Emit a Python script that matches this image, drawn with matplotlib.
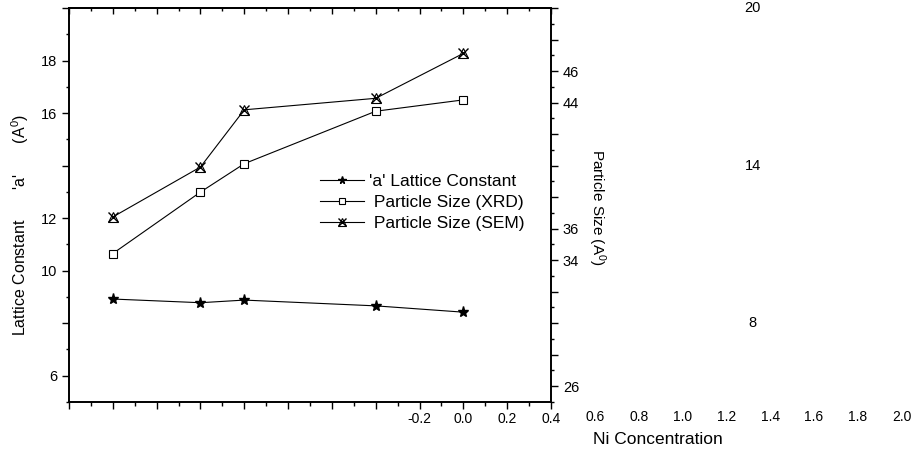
import numpy as np
import matplotlib
matplotlib.use("Agg")
import matplotlib.pyplot as plt
import matplotlib.transforms as mtransforms
from matplotlib.legend_handler import HandlerTuple
from matplotlib.ticker import FixedLocator, FixedFormatter

plt.rcParams['font.family'] = ['Liberation Sans', 'DejaVu Sans']
plt.rcParams['mathtext.default'] = 'regular'

# data
ni_conc = [-1.6, -1.2, -1.0, -0.4, 0.0]
lattice_a = [8.92, 8.78, 8.88, 8.66, 8.42]
size_xrd = [34.42, 38.32, 40.12, 43.45, 44.17]
size_sem = [36.74, 39.91, 43.54, 44.27, 47.12]

x_major = [-1.8, -1.6, -1.4, -1.2, -1.0, -0.8, -0.6, -0.4, -0.2, 0.0, 0.2, 0.4]
x_labels = ["", "", "", "", "", "", "", "", "-0.2", "0.0", "0.2", "0.4"]
x_extra = [0.6, 0.8, 1.0, 1.2, 1.4, 1.6, 1.8, 2.0]  # labels that spill past the frame
left_labels = {6: "6", 10: "10", 12: "12", 16: "16", 18: "18"}
left_stray = [20, 14, 8]  # left labels that ended up far to the right
right_labels = {26: "26", 34: "34", 36: "36", 44: "44", 46: "46"}

fig = plt.figure(figsize=(9.14, 4.61), dpi=100)
ax = fig.add_axes([69/914, 59/461, 482/914, 394/461])
ax2 = ax.twinx()

ax.set_xlim(-1.8, 0.4)
ax.set_ylim(5, 20)
ax2.set_ylim(25, 50)

# lines
l1, = ax.plot(ni_conc, lattice_a, color='black', lw=0.8, marker='*', ms=8,
              mfc='black', mec='black')
l2, = ax2.plot(ni_conc, size_xrd, color='black', lw=0.8, marker='s', ms=5.5,
               mfc='white', mec='black', mew=0.8)
l3, = ax2.plot(ni_conc, size_sem, color='black', lw=0.8, marker='^', ms=7.5,
               mfc='none', mec='black', mew=0.8)
l3x, = ax2.plot(ni_conc, size_sem, ls='none', marker='x', ms=7.5,
                mec='black', mew=1.0)

# x axis
ax.xaxis.set_major_locator(FixedLocator(x_major))
ax.xaxis.set_major_formatter(FixedFormatter(x_labels))
ax.xaxis.set_minor_locator(FixedLocator(np.arange(-1.7, 0.4, 0.2)))
ax.tick_params(axis='x', which='major', direction='out', length=5, width=1,
               labelsize=10, pad=2.5, top=False)
ax.tick_params(axis='x', which='minor', direction='out', length=3, width=1, top=False)
top = ax.secondary_xaxis('top')
top.xaxis.set_major_locator(FixedLocator(x_major))
top.xaxis.set_minor_locator(FixedLocator(np.arange(-1.7, 0.4, 0.2)))
top.tick_params(axis='x', which='major', direction='in', length=4, width=1, labeltop=False)
top.tick_params(axis='x', which='minor', direction='in', length=2.5, width=1)
top.spines['top'].set_linewidth(1.2)

xt = ax.get_xaxis_transform()
for v in x_extra:
    ax.text(v, -0.037, f"{v:.1f}", transform=xt, ha='center', va='center',
            fontsize=10, clip_on=False)

# left axis
ax.yaxis.set_major_locator(FixedLocator(np.arange(6, 21, 2)))
ax.yaxis.set_major_formatter(FixedFormatter(
    [left_labels.get(int(v), "") for v in np.arange(6, 21, 2)]))
ax.yaxis.set_minor_locator(FixedLocator(np.arange(5, 21, 2)))
ax.tick_params(axis='y', which='major', direction='out', length=5, width=1,
               labelsize=10.5, right=False)
ax.tick_params(axis='y', which='minor', direction='out', length=2.5, width=1, right=False)

stray_t = mtransforms.blended_transform_factory(fig.transFigure, ax.transData)
for v in left_stray:
    ax.text(752.5/914, v, str(v), transform=stray_t, ha='center', va='center',
            fontsize=10.5, clip_on=False)

# right axis
ax2.yaxis.set_major_locator(FixedLocator(np.arange(26, 51, 2)))
ax2.yaxis.set_major_formatter(FixedFormatter(
    [right_labels.get(int(v), "") for v in np.arange(26, 51, 2)]))
ax2.yaxis.set_minor_locator(FixedLocator(np.arange(25, 51, 2)))
ax2.tick_params(axis='y', which='major', direction='out', length=5, width=1,
                labelsize=10.5)
ax2.tick_params(axis='y', which='minor', direction='out', length=2.5, width=1)

for a in (ax, ax2):
    for s in a.spines.values():
        s.set_linewidth(1.2)

# labels
ax.set_ylabel("Lattice Constant       'a'       (A$^0$)", fontsize=11.5, va='center')
ax.yaxis.set_label_coords(-0.1017, 0.45)
ax2.set_ylabel("Particle Size (A$^0$)", fontsize=11, rotation=270,
               va='center', ha='center')
ax2.yaxis.set_label_coords(1.095, 0.495)
ax.set_xlabel("Ni Concentration", fontsize=12.5, va='center')
ax.xaxis.set_label_coords(1.222, -0.0964)

ax2.legend([l1, l2, (l3, l3x)],
           ["'a' Lattice Constant", " Particle Size (XRD)", " Particle Size (SEM)"],
           handler_map={tuple: HandlerTuple(ndivide=1)},
           loc='upper left', bbox_to_anchor=(0.521, 0.58), frameon=False,
           borderpad=0, borderaxespad=0, handlelength=2.5, handletextpad=0.3,
           labelspacing=0.35, fontsize=12.5, markerscale=0.7)

fig.savefig("out.png", dpi=100)
